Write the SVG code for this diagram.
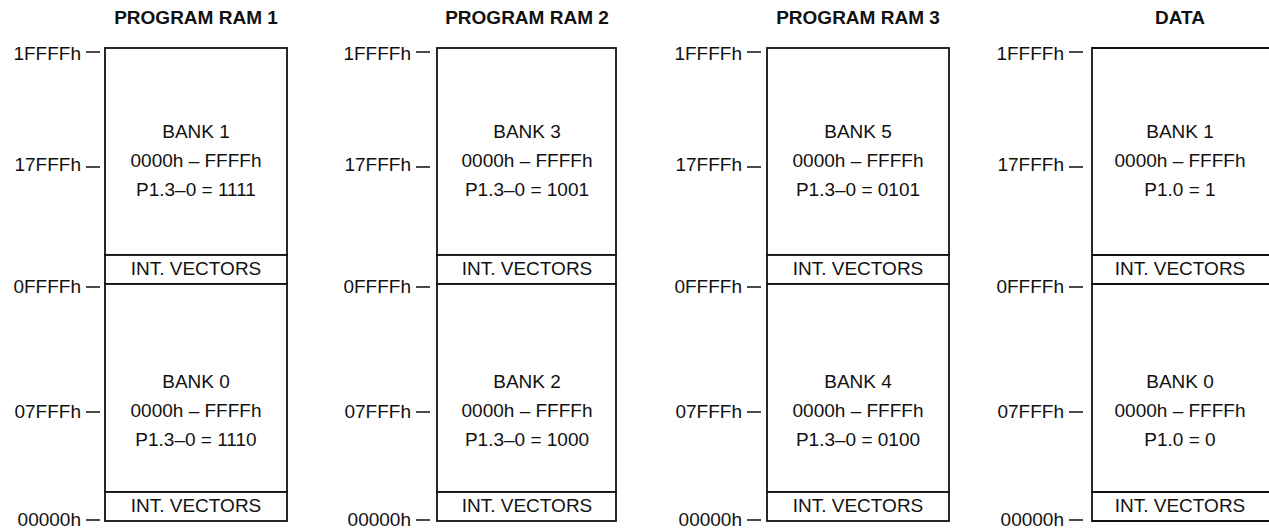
<svg xmlns="http://www.w3.org/2000/svg" width="1269" height="529" viewBox="0 0 1269 529">
<style>
  text { font-family: "Liberation Sans", Arial, Helvetica, sans-serif; font-size: 19px; fill: #111; }
  .hdr { font-weight: bold; text-anchor: middle; }
  .c { text-anchor: middle; }
  .lbl { text-anchor: end; }
  .box { fill: #fff; stroke: #111; stroke-width: 1.8; }
  .ln { stroke: #111; stroke-width: 1.8; fill: none; }
  .tick { stroke: #111; stroke-width: 1.6; }
</style>
<rect width="1269" height="529" fill="#fff"/>

<!-- Column 1 -->
<g id="ram1">
  <text class="hdr" x="196" y="24">PROGRAM RAM 1</text>
  <g id="ram1-bank1">
    <rect class="box" x="105" y="48" width="182" height="207"/>
    <text class="c" x="196" y="138">BANK 1</text>
    <text class="c" x="196" y="167">0000h – FFFFh</text>
    <text class="c" x="196" y="196">P1.3–0 = 1111</text>
  </g>
  <g id="ram1-vec1">
    <rect class="box" x="105" y="255" width="182" height="29"/>
    <text class="c" x="196" y="275">INT. VECTORS</text>
  </g>
  <g id="ram1-bank0">
    <rect class="box" x="105" y="284" width="182" height="208"/>
    <text class="c" x="196" y="388">BANK 0</text>
    <text class="c" x="196" y="417">0000h – FFFFh</text>
    <text class="c" x="196" y="446">P1.3–0 = 1110</text>
  </g>
  <g id="ram1-vec0">
    <rect class="box" x="105" y="492" width="182" height="29"/>
    <text class="c" x="196" y="512">INT. VECTORS</text>
  </g>
  <g id="ram1-labels">
    <text class="lbl" x="81" y="60">1FFFFh</text>
    <text class="lbl" x="81" y="171">17FFFh</text>
    <text class="lbl" x="81" y="293">0FFFFh</text>
    <text class="lbl" x="81" y="418">07FFFh</text>
    <text class="lbl" x="81" y="526">00000h</text>
  </g>
</g>

<!-- Column 2 -->
<g id="ram2">
  <text class="hdr" x="527" y="24">PROGRAM RAM 2</text>
  <g id="ram2-bank3">
    <rect class="box" x="437" y="48" width="179" height="207"/>
    <text class="c" x="527" y="138">BANK 3</text>
    <text class="c" x="527" y="167">0000h – FFFFh</text>
    <text class="c" x="527" y="196">P1.3–0 = 1001</text>
  </g>
  <g id="ram2-vec3">
    <rect class="box" x="437" y="255" width="179" height="29"/>
    <text class="c" x="527" y="275">INT. VECTORS</text>
  </g>
  <g id="ram2-bank2">
    <rect class="box" x="437" y="284" width="179" height="208"/>
    <text class="c" x="527" y="388">BANK 2</text>
    <text class="c" x="527" y="417">0000h – FFFFh</text>
    <text class="c" x="527" y="446">P1.3–0 = 1000</text>
  </g>
  <g id="ram2-vec2">
    <rect class="box" x="437" y="492" width="179" height="29"/>
    <text class="c" x="527" y="512">INT. VECTORS</text>
  </g>
  <g id="ram2-labels">
    <text class="lbl" x="411" y="60">1FFFFh</text>
    <text class="lbl" x="411" y="171">17FFFh</text>
    <text class="lbl" x="411" y="293">0FFFFh</text>
    <text class="lbl" x="411" y="418">07FFFh</text>
    <text class="lbl" x="411" y="526">00000h</text>
  </g>
</g>

<!-- Column 3 -->
<g id="ram3">
  <text class="hdr" x="858" y="24">PROGRAM RAM 3</text>
  <g id="ram3-bank5">
    <rect class="box" x="767" y="48" width="182" height="207"/>
    <text class="c" x="858" y="138">BANK 5</text>
    <text class="c" x="858" y="167">0000h – FFFFh</text>
    <text class="c" x="858" y="196">P1.3–0 = 0101</text>
  </g>
  <g id="ram3-vec5">
    <rect class="box" x="767" y="255" width="182" height="29"/>
    <text class="c" x="858" y="275">INT. VECTORS</text>
  </g>
  <g id="ram3-bank4">
    <rect class="box" x="767" y="284" width="182" height="208"/>
    <text class="c" x="858" y="388">BANK 4</text>
    <text class="c" x="858" y="417">0000h – FFFFh</text>
    <text class="c" x="858" y="446">P1.3–0 = 0100</text>
  </g>
  <g id="ram3-vec4">
    <rect class="box" x="767" y="492" width="182" height="29"/>
    <text class="c" x="858" y="512">INT. VECTORS</text>
  </g>
  <g id="ram3-labels">
    <text class="lbl" x="742" y="60">1FFFFh</text>
    <text class="lbl" x="742" y="171">17FFFh</text>
    <text class="lbl" x="742" y="293">0FFFFh</text>
    <text class="lbl" x="742" y="418">07FFFh</text>
    <text class="lbl" x="742" y="526">00000h</text>
  </g>
</g>

<!-- Column 4 (box runs past the right edge) -->
<g id="data">
  <text class="hdr" x="1180" y="24">DATA</text>
  <g id="data-bank1">
    <path class="ln" d="M1269 48 H1092 V255"/>
    <text class="c" x="1180" y="138">BANK 1</text>
    <text class="c" x="1180" y="167">0000h – FFFFh</text>
    <text class="c" x="1180" y="196">P1.0 = 1</text>
  </g>
  <g id="data-vec1">
    <path class="ln" d="M1269 255 H1092 V284 H1269"/>
    <text class="c" x="1180" y="275">INT. VECTORS</text>
  </g>
  <g id="data-bank0">
    <path class="ln" d="M1092 284 V492"/>
    <text class="c" x="1180" y="388">BANK 0</text>
    <text class="c" x="1180" y="417">0000h – FFFFh</text>
    <text class="c" x="1180" y="446">P1.0 = 0</text>
  </g>
  <g id="data-vec0">
    <path class="ln" d="M1269 492 H1092 V521 H1269"/>
    <text class="c" x="1180" y="512">INT. VECTORS</text>
  </g>
  <g id="data-labels">
    <text class="lbl" x="1064" y="60">1FFFFh</text>
    <text class="lbl" x="1064" y="171">17FFFh</text>
    <text class="lbl" x="1064" y="293">0FFFFh</text>
    <text class="lbl" x="1064" y="418">07FFFh</text>
    <text class="lbl" x="1064" y="526">00000h</text>
  </g>
</g>

<!-- Address tick marks -->
<g id="connectors">
  <path class="tick" d="M86 52 H100 M86 167 H100 M86 287 H100 M86 412 H100 M86 520 H100"/>
  <path class="tick" d="M416 52 H430 M416 167 H430 M416 287 H430 M416 412 H430 M416 520 H430"/>
  <path class="tick" d="M747 52 H761 M747 167 H761 M747 287 H761 M747 412 H761 M747 520 H761"/>
  <path class="tick" d="M1069 52 H1083 M1069 167 H1083 M1069 287 H1083 M1069 412 H1083 M1069 520 H1083"/>
</g>
</svg>
